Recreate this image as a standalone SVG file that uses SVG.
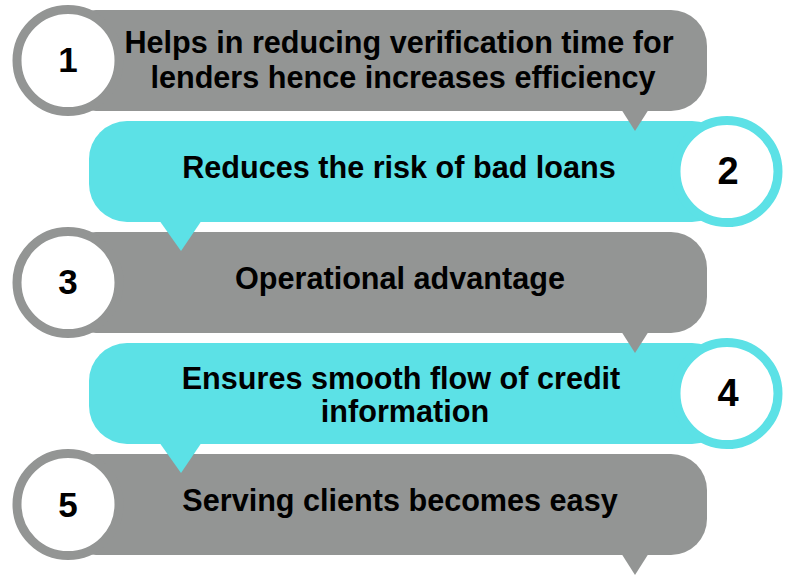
<svg xmlns="http://www.w3.org/2000/svg" width="802" height="580" viewBox="0 0 802 580">
<style>
.g{fill:#939594}
.c{fill:#5CE1E6}
.ring-g{fill:#fff;stroke:#939594;stroke-width:9}
.ring-c{fill:#fff;stroke:#5CE1E6;stroke-width:9}
.t{font-family:"Liberation Sans",Arial,sans-serif;font-weight:bold;font-size:30.6px;fill:#000;text-anchor:middle}
.n{font-family:"Liberation Sans",Arial,sans-serif;font-weight:bold;font-size:35px;fill:#000;text-anchor:middle}
.nr{font-family:"Liberation Sans",Arial,sans-serif;font-weight:bold;font-size:38px;fill:#000;text-anchor:middle}
</style>
<rect width="802" height="580" fill="#fff"/>
<g id="node5">
<rect class="g" x="60" y="454" width="647" height="101" rx="36"/>
<polygon class="g" points="621,553 649,553 635,575"/>
<circle class="ring-g" cx="68" cy="504.5" r="51"/>
<text class="n" x="68" y="517">5</text>
<text class="t" x="400" y="511">Serving clients becomes easy</text>
</g>
<g id="node4">
<rect class="c" x="89" y="343" width="641" height="101" rx="38"/>
<polygon class="c" points="159,442 202,442 181,473"/>
<circle class="ring-c" cx="727" cy="393.5" r="51"/>
<text class="nr" x="728" y="406">4</text>
<text class="t" x="401" y="389">Ensures smooth flow of credit</text>
<text class="t" x="405" y="422">information</text>
</g>
<g id="node3">
<rect class="g" x="60" y="232" width="647" height="101" rx="36"/>
<polygon class="g" points="621,331 649,331 635,353"/>
<circle class="ring-g" cx="68" cy="282.5" r="51"/>
<text class="n" x="68" y="294">3</text>
<text class="t" x="400" y="289">Operational advantage</text>
</g>
<g id="node2">
<rect class="c" x="89" y="121" width="641" height="101" rx="38"/>
<polygon class="c" points="159,220 202,220 181,251"/>
<circle class="ring-c" cx="727" cy="171.5" r="51"/>
<text class="nr" x="728" y="184">2</text>
<text class="t" x="399" y="178">Reduces the risk of bad loans</text>
</g>
<g id="node1">
<rect class="g" x="60" y="10" width="647" height="101" rx="36"/>
<polygon class="g" points="621,109 649,109 635,131"/>
<circle class="ring-g" cx="68" cy="60.5" r="51"/>
<text class="n" x="68" y="72">1</text>
<text class="t" x="399" y="53">Helps in reducing verification time for</text>
<text class="t" x="403" y="88">lenders hence increases efficiency</text>
</g>
<g id="connectors"></g>
</svg>
